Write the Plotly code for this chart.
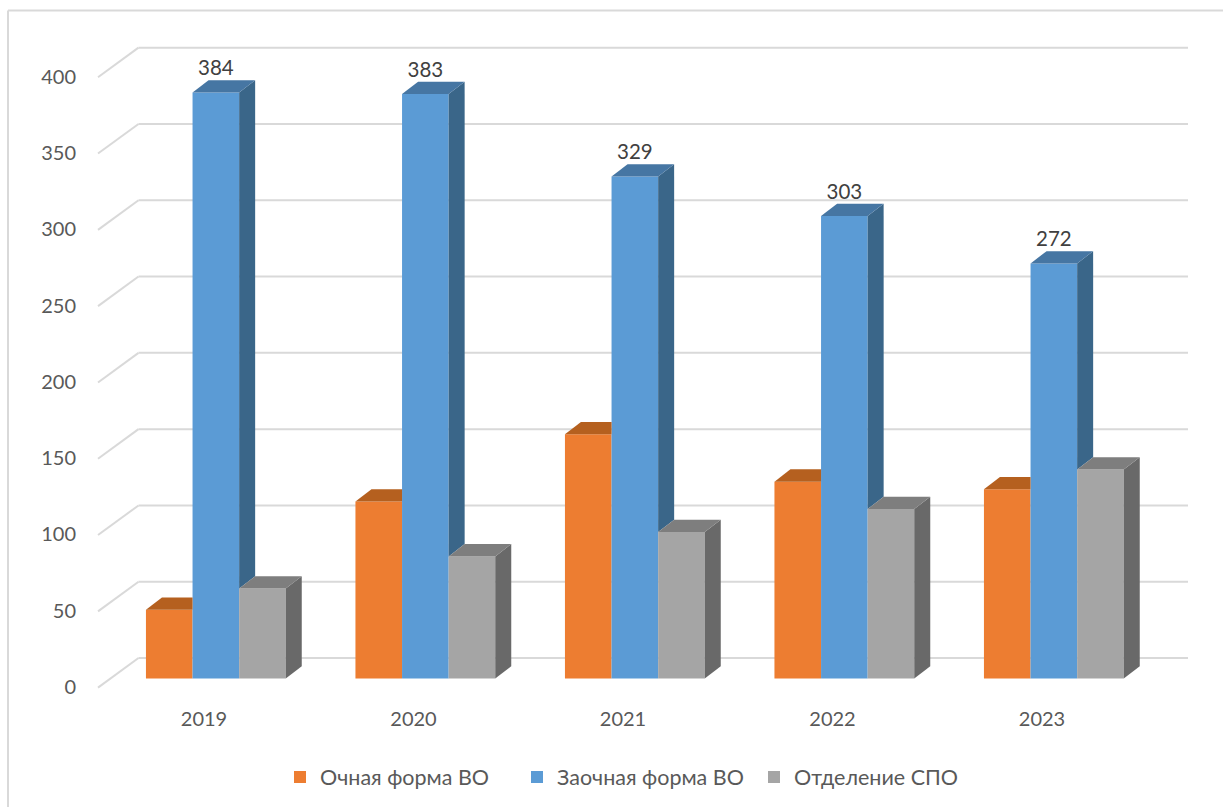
import plotly.graph_objects as go

years = ["2019", "2020", "2021", "2022", "2023"]
series_names = ["Очная форма ВО", "Заочная форма ВО", "Отделение СПО"]
ochnaya = [45, 116, 160, 129, 124]
zaochnaya = [384, 383, 329, 303, 272]
spo = [59, 80, 96, 111, 137]
axis_values = [0, 50, 100, 150, 200, 250, 300, 350, 400]

front = ["#ED7D31", "#5B9BD5", "#A5A5A5"]
top_c = ["#B5601F", "#4676A3", "#7E7E7E"]
side_c = ["#98501A", "#3A6689", "#696969"]
GRID = "#D9D9D9"
TXT = "#595959"
FONT = "Lato, 'Open Sans', sans-serif"

W, H = 1223, 807
L, B = 82, 107
PX_X = 209.5      # pixels per category
PX_Y = 1.526      # pixels per value unit
X0_PX, Y0_PX = 215.85, 678.5
BAR = 46.6 / PX_X
DX = 16 / PX_X    # bar depth, x
DY = 12.3 / PX_Y  # bar depth, y

x_idx = list(range(len(years)))
fig = go.Figure()

for name, vals, col in zip(series_names, [ochnaya, zaochnaya, spo], front):
    fig.add_trace(go.Bar(name=name, x=x_idx, y=vals, marker=dict(color=col, line=dict(width=0))))


def poly(xs, ys, color):
    fig.add_trace(go.Scatter(x=xs + xs[:1], y=ys + ys[:1], mode="lines", fill="toself",
                             fillcolor=color, line=dict(width=0, color=color),
                             showlegend=False, hoverinfo="skip"))


for i in x_idx:
    a, b, c = ochnaya[i], zaochnaya[i], spo[i]
    x1 = i - 0.5 * BAR
    x2 = i + 0.5 * BAR
    x0 = x1 - BAR
    x3 = x2 + BAR
    # orange top, clipped where the blue bar covers it
    poly([x0, x1, x1, x0 + DX], [a, a, a + DY, a + DY], top_c[0])
    # blue side above the grey bar
    poly([x2, x2, x2 + DX, x2 + DX], [c, b, b + DY, c + DY], side_c[1])
    # blue top
    poly([x1, x2, x2 + DX, x1 + DX], [b, b, b + DY, b + DY], top_c[1])
    # grey side and top
    poly([x3, x3, x3 + DX, x3 + DX], [0, c, c + DY, DY], side_c[2])
    poly([x2, x3, x3 + DX, x2 + DX], [c, c, c + DY, c + DY], top_c[2])

fig.add_trace(go.Scatter(x=x_idx, y=[v + DY for v in zaochnaya], mode="text",
                         text=[str(v) for v in zaochnaya], textposition="top center",
                         textfont=dict(family=FONT, size=20.5, color="#404040"),
                         showlegend=False, hoverinfo="skip"))

BACK = 13.4   # back wall offset in value units
FRONT = -6.0  # front edge offset in value units
XL_F = (98 - X0_PX) / PX_X
XL_B = (138.5 - X0_PX) / PX_X
XR_B = (1188 - X0_PX) / PX_X
shapes = []
for v in axis_values:
    common = dict(type="line", xref="x", yref="y", layer="below", line=dict(color=GRID, width=2))
    shapes.append(dict(x0=XL_F, x1=XL_B, y0=v + FRONT, y1=v + BACK, **common))
    shapes.append(dict(x0=XL_B, x1=XR_B, y0=v + BACK, y1=v + BACK, **common))

plot_w = W - L
plot_h = H - B
frame = dict(type="line", xref="paper", yref="paper", layer="below", line=dict(color=GRID, width=2))
fx = (8 - L) / plot_w
fy = (plot_h - 10.5) / plot_h
shapes.append(dict(x0=fx, x1=1, y0=fy, y1=fy, **frame))
shapes.append(dict(x0=fx, x1=fx, y0=fy, y1=-B / plot_h, **frame))

fig.update_layout(
    width=W, height=H, autosize=False,
    margin=dict(l=L, r=0, t=0, b=B, pad=0),
    paper_bgcolor="white", plot_bgcolor="white",
    barmode="group", bargap=1 - 3 * BAR, bargroupgap=0,
    shapes=shapes,
    font=dict(family=FONT, color=TXT, size=20),
    showlegend=True,
    legend=dict(orientation="h", x=(280 - L) / plot_w, y=(plot_h - 777) / plot_h,
                xanchor="left", yanchor="middle", font=dict(family=FONT, size=21.5, color=TXT),
                entrywidth=192, entrywidthmode="pixels",
                bgcolor="rgba(0,0,0,0)", traceorder="normal"),
    xaxis=dict(range=[(L - X0_PX) / PX_X, (W - X0_PX) / PX_X], showgrid=False, zeroline=False,
               showline=False, tickmode="array", tickvals=[i - 0.0566 for i in x_idx], ticktext=years,
               ticks="", ticklabelstandoff=5, tickfont=dict(family=FONT, size=20, color=TXT)),
    yaxis=dict(range=[(Y0_PX - (H - B)) / PX_Y, Y0_PX / PX_Y], showgrid=False, zeroline=False,
               showline=False, tickmode="array", tickvals=[v - 5.6 for v in axis_values],
               ticktext=[str(v) for v in axis_values], ticks="", ticklabelstandoff=5,
               tickfont=dict(family=FONT, size=20, color=TXT)),
)

fig.write_html("out.html", config=dict(displayModeBar=False),
               post_script="document.body.style.margin='0';")
